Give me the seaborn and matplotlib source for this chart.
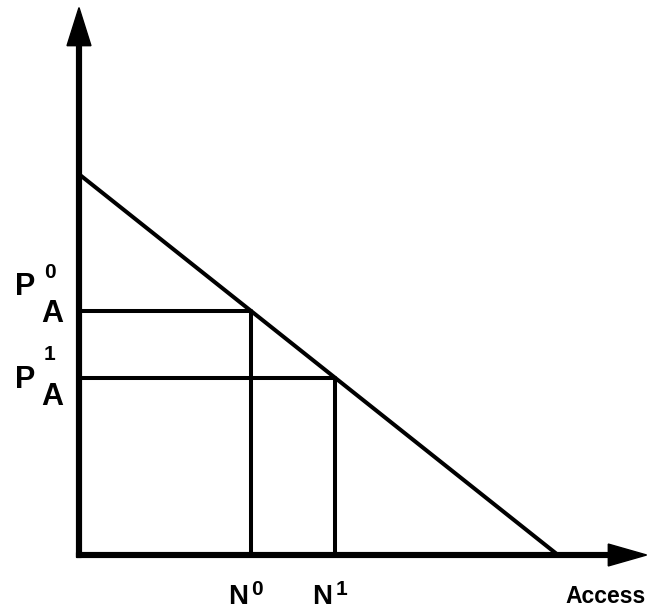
import matplotlib
matplotlib.use("Agg")
import matplotlib.pyplot as plt
import numpy as np
import pandas as pd
import seaborn as sns

# demand line for access: price P_A against quantity N
intercept_price = 8.0
intercept_access = 10.0
n_values = [3.59, 5.34]          # N0, N1
n_labels = ["0", "1"]
p_labels = ["0", "1"]
x_label = "Access"

p_values = [intercept_price * (1 - n / intercept_access) for n in n_values]

sns.set_theme(style="white")
plt.rcParams["font.family"] = ["Liberation Sans", "DejaVu Sans"]
plt.rcParams["text.color"] = "black"

fig = plt.figure(figsize=(6.53, 6.11), dpi=100)
ax = fig.add_axes([0, 0, 1, 1])
ax.set_xlim(-79 / 47.9, (653 - 79) / 47.9)
ax.set_ylim(-(611 - 555) / 47.6, 555 / 47.6)
ax.set_axis_off()

line_kw = dict(ax=ax, color="black", lw=2.9, estimator=None, sort=False)

demand = pd.DataFrame({"N": [0, intercept_access], "P": [intercept_price, 0]})
sns.lineplot(data=demand, x="N", y="P", **line_kw)

for n, p in zip(n_values, p_values):
    sns.lineplot(x=[0, n], y=[p, p], **line_kw)
    sns.lineplot(x=[n, n], y=[0, p], **line_kw)

# axes with arrow heads
ax.arrow(0, -0.05, 0, 11.55, width=0.1, head_width=0.5, head_length=0.8,
         length_includes_head=True, fc="black", ec="black")
ax.arrow(-0.05, 0, 11.9, 0, width=0.1, head_width=0.46, head_length=0.8,
         length_includes_head=True, fc="black", ec="black")

big = 22
small = 15
txt = dict(va="baseline", fontweight="bold", color="black")

# price labels
p_offsets = [(0.33, 0.69, -0.23), (-0.21, 0.36, -0.57)]
for p, lab, (dp, ds, da) in zip(p_values, p_labels, p_offsets):
    ax.text(-1.13, p + dp, "P", fontsize=big, ha="center", **txt)
    ax.text(-0.61, p + ds, lab, fontsize=small, ha="center", **txt)
    ax.text(-0.56, p + da, "A", fontsize=big, ha="center", **txt)

# quantity labels
for n, lab in zip(n_values, n_labels):
    ax.text(n - 0.26, -1.03, "N", fontsize=20, ha="center", **txt)
    ax.text(n + 0.13, -0.84, lab, fontsize=small, ha="center", **txt)

ax.text(11.84, -1.01, x_label, fontsize=16.5, ha="right", **txt)

fig.savefig("out.png", dpi=100)
